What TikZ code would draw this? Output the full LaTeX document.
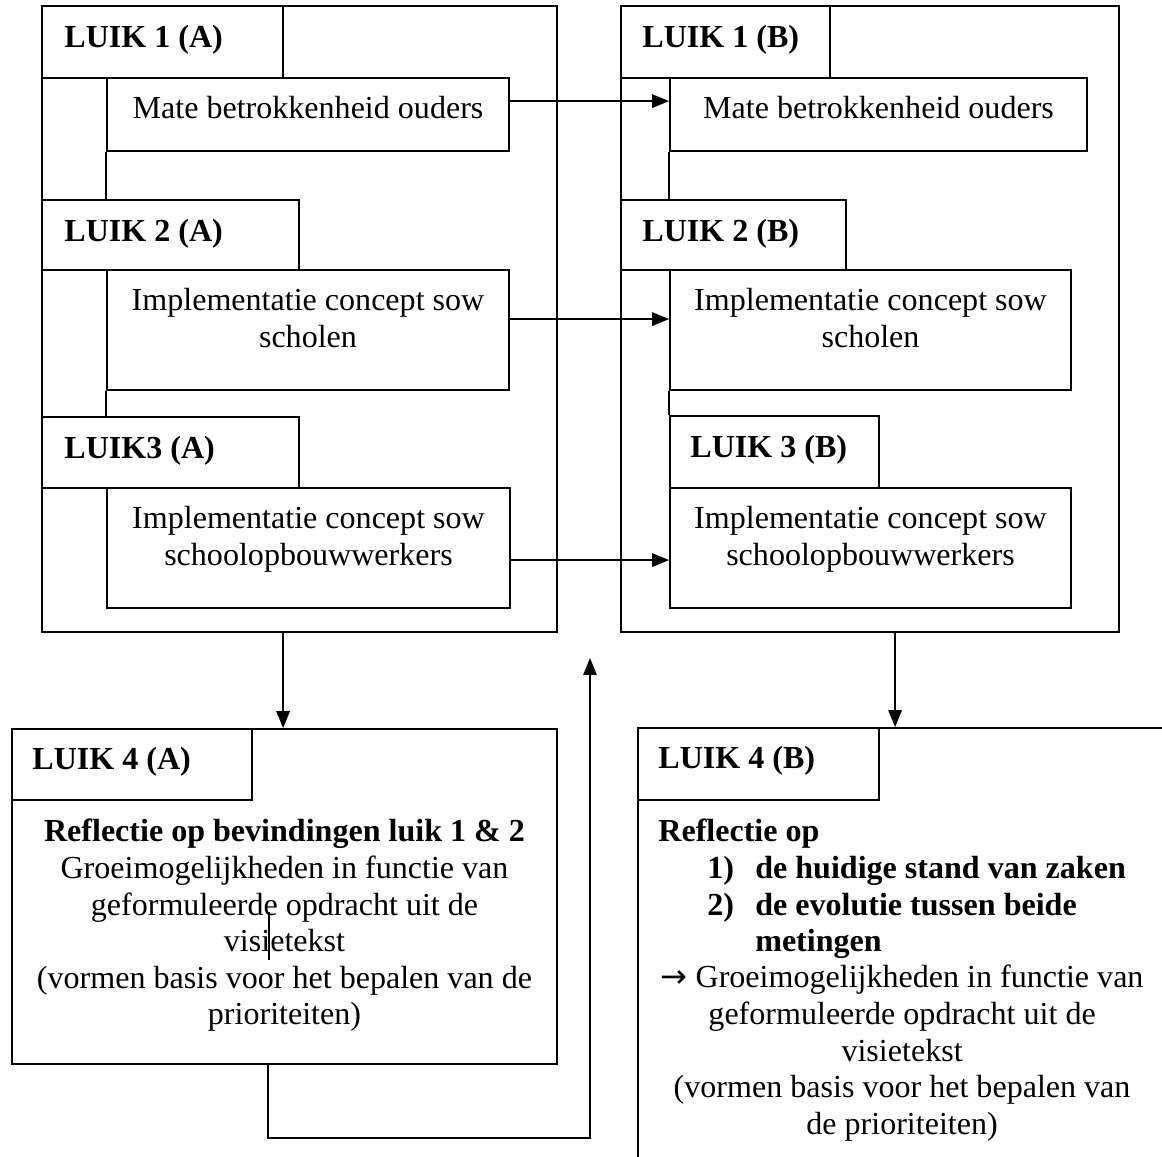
\documentclass[tikz,border=0pt]{standalone}
\usepackage{fontspec}
\setmainfont{Liberation Serif}
\newfontfamily\pijlfont{DejaVu Sans}
\usetikzlibrary{arrows.meta,fit,calc}

\tikzset{
  box/.style={draw, line width=1.3pt, inner sep=0pt},
  tag/.style={inner sep=0pt, anchor=base west, font=\fontsize{22.8}{26}\selectfont\bfseries},
  body/.style={inner sep=0pt, anchor=north, align=center, font=\fontsize{22.8}{26}\selectfont},
  arr/.style={line width=1.1pt, -{Triangle[length=12pt,width=9.5pt]}}
}

\begin{document}
\begin{tikzpicture}[x=0.025cm, y=-0.025cm]
\useasboundingbox (0,0) rectangle (1162,1156);
\clip (0,0) rectangle (1162,1156);

\node[box, fit={(42,6) (557,632)}] (luikA) {};
\node[box, fit={(42,6) (283,78)}] (tabA1) {};
\node[box, fit={(107,78) (509,151)}] (mateA) {};
\node[box, fit={(42,200) (299,270)}] (tabA2) {};
\node[box, fit={(107,270) (509,390)}] (implA) {};
\node[box, fit={(42,417) (299,488)}] (tabA3) {};
\node[box, fit={(107,488) (510,608)}] (sowA) {};
\draw[line width=1.3pt] (mateA.south west) -- (mateA.south west |- tabA2.north);
\draw[line width=1.3pt] (implA.south west) -- (implA.south west |- tabA3.north);

\node[tag] (tA1) at ($(tabA1.north west)+(23,42)$) {LUIK 1 (A)};
\node[tag] (tA2) at ($(tabA2.north west)+(23,42)$) {LUIK 2 (A)};
\node[tag] (tA3) at ($(tabA3.north west)+(23,42)$) {LUIK3 (A)};
\node[body] (xA1) at ($(mateA.north)+(0,19)$) {Mate betrokkenheid ouders};
\node[body] (xA2) at ($(implA.north)+(0,19)$) {Implementatie concept sow\\scholen};
\node[body] (xA3) at ($(sowA.north)+(0,19)$) {Implementatie concept sow\\schoolopbouwwerkers};

\node[box, fit={(621,6) (1119,632)}] (luikB) {};
\node[box, fit={(621,6) (830,78)}] (tabB1) {};
\node[box, fit={(670,78) (1087,151)}] (mateB) {};
\node[box, fit={(621,200) (846,270)}] (tabB2) {};
\node[box, fit={(670,270) (1071,390)}] (implB) {};
\node[box, fit={(670,416) (879,488)}] (tabB3) {};
\node[box, fit={(670,488) (1071,608)}] (sowB) {};
\draw[line width=1.3pt] (mateB.south west) -- (mateB.south west |- tabB2.north);
\draw[line width=1.3pt] (implB.south west) -- (tabB3.north west);

\node[tag] (tB1) at ($(tabB1.north west)+(22,42)$) {LUIK 1 (B)};
\node[tag] (tB2) at ($(tabB2.north west)+(22,42)$) {LUIK 2 (B)};
\node[tag] (tB3) at ($(tabB3.north west)+(21,42)$) {LUIK 3 (B)};
\node[body] (xB1) at ($(mateB.north)+(0,19)$) {Mate betrokkenheid ouders};
\node[body] (xB2) at ($(implB.north)+(0,19)$) {Implementatie concept sow\\scholen};
\node[body] (xB3) at ($(sowB.north)+(0,19)$) {Implementatie concept sow\\schoolopbouwwerkers};

\draw[arr] ($(mateA.north east)+(0,24)$) -- ($(mateB.north west)+(0,24)$);
\draw[arr] ($(implA.north east)+(0,50)$) -- ($(implB.north west)+(0,50)$);
\draw[arr] ($(sowA.north east)+(0,73)$) -- ($(sowB.north west)+(0,73)$);

\node[box, fit={(12,729) (557,1064)}] (reflA) {};
\node[box, fit={(12,729) (252,800)}] (tabA4) {};
\node[box, fit={(638,728) (1200,1200)}] (reflB) {};
\node[box, fit={(638,728) (879,800)}] (tabB4) {};

\node[tag] (tA4) at ($(tabA4.north west)+(21,41)$) {LUIK 4 (A)};
\node[tag] (tB4) at ($(tabB4.north west)+(21,41)$) {LUIK 4 (B)};
\node[body] (xA4) at ($(reflA.north)+(0,91)$) {\textbf{Reflectie op bevindingen luik 1 \& 2}\\Groeimogelijkheden in functie van\\geformuleerde opdracht uit de\\visietekst\\(vormen basis voor het bepalen van de\\prioriteiten)};
\draw[line width=1pt] (269,912) -- (269,960);

\node[tag] (hB4) at ($(reflB.north west)+(21,114)$) {Reflectie op};
\node[tag] (n1) at (707,878) {1)};
\node[tag] (i1) at (755,878) {de huidige stand van zaken};
\node[tag] (n2) at (707,915) {2)};
\node[tag] (i2) at (755,915) {de evolutie tussen beide};
\node[tag] (i3) at (755,951) {metingen};
\node[body] (xB4) at ($(reflB.north west)+(265,238)$) {{\pijlfont →} Groeimogelijkheden in functie van\\geformuleerde opdracht uit de\\visietekst\\(vormen basis voor het bepalen van\\de prioriteiten)};

\draw[arr] ($(luikA.south west)+(242,0)$) -- ($(reflA.north west)+(272,0)$);
\draw[arr] ($(luikB.south west)+(275,0)$) -- ($(reflB.north west)+(258,0)$);
\coordinate (terug) at (590,658);
\draw[arr] ($(reflA.south west)+(257,0)$) -- ++(0,73) -| (terug);
\end{tikzpicture}
\end{document}
